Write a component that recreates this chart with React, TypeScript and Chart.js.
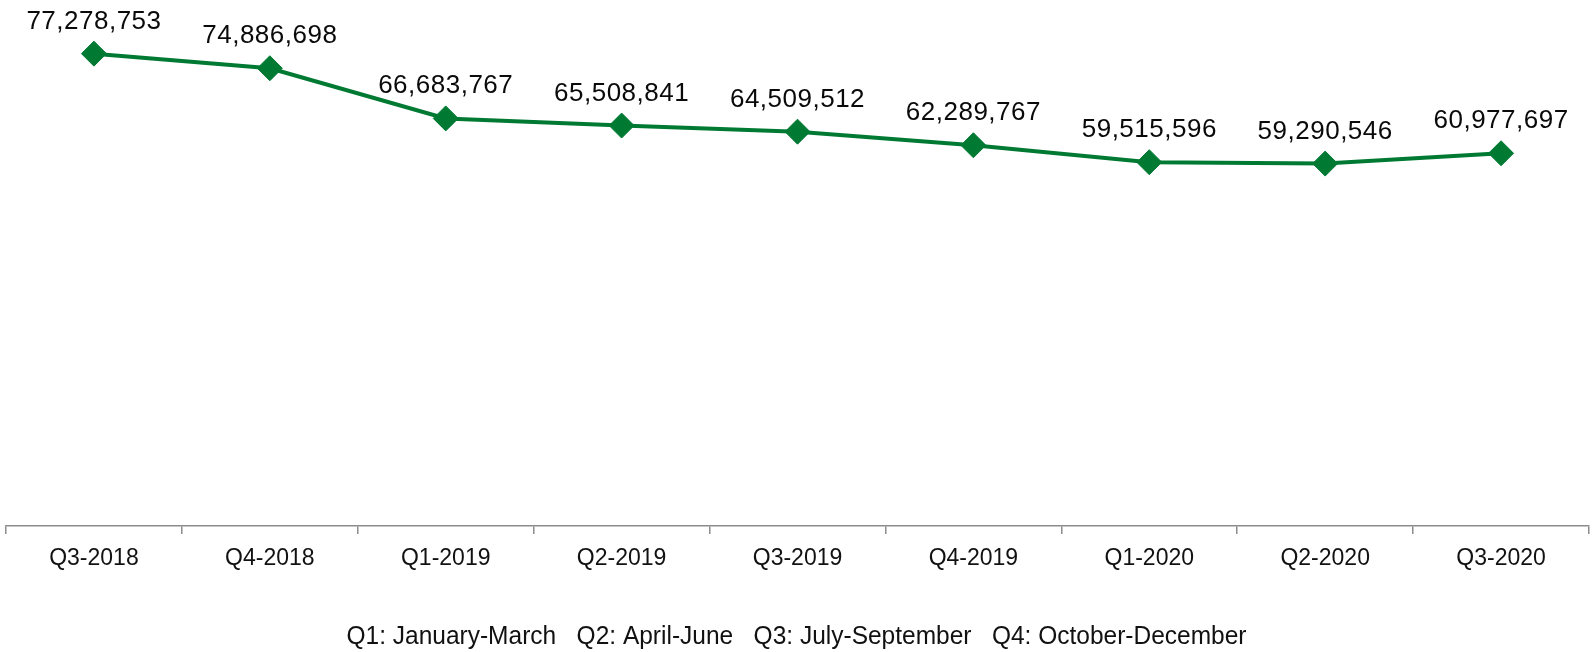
import React, { useEffect, useRef } from "react";
import { Chart, registerables } from "chart.js";

Chart.register(...registerables);

const categories = [
  "Q3-2018", "Q4-2018", "Q1-2019", "Q2-2019", "Q3-2019",
  "Q4-2019", "Q1-2020", "Q2-2020", "Q3-2020",
];
const values = [
  77278753, 74886698, 66683767, 65508841, 64509512,
  62289767, 59515596, 59290546, 60977697,
];
const note = "Q1: January-March   Q2: April-June   Q3: July-September   Q4: October-December";

const GREEN = "rgb(0,122,51)";

const valueLabels = {
  id: "valueLabels",
  afterDatasetsDraw(chart: any) {
    const ctx = chart.ctx;
    const meta = chart.getDatasetMeta(0);
    ctx.save();
    ctx.font = "26px 'Liberation Sans', Arial, sans-serif";
    (ctx as any).letterSpacing = "0.5px";
    ctx.fillStyle = "#0a0a0a";
    ctx.textAlign = "center";
    ctx.textBaseline = "alphabetic";
    meta.data.forEach((pt: any, i: number) => {
      const v = values[i];
      ctx.fillText(v.toLocaleString("en-US"), pt.x, pt.y - 25);
    });
    ctx.restore();
  },
};

const bottomNote = {
  id: "bottomNote",
  afterDraw(chart: any) {
    const ctx = chart.ctx;
    ctx.save();
    ctx.font = "25.5px 'Liberation Sans', Arial, sans-serif";
    ctx.fillStyle = "#111";
    ctx.textAlign = "center";
    ctx.textBaseline = "alphabetic";
    const w = ctx.measureText(note).width;
    const sx = 900 / w;
    ctx.translate(chart.width / 2 - 1, 643.5);
    ctx.scale(sx, 1);
    ctx.fillText(note, 0, 0);
    ctx.restore();
  },
};

export default function App() {
  const ref = useRef<HTMLCanvasElement | null>(null);
  useEffect(() => {
    document.body.style.margin = "0";
    const canvas = ref.current;
    if (!canvas) return;
    const chart = new Chart(canvas, {
      type: "line",
      data: {
        labels: categories,
        datasets: [
          {
            data: values,
            borderColor: GREEN,
            backgroundColor: GREEN,
            borderWidth: 4,
            pointStyle: "rectRot",
            pointRadius: 12.5,
            pointBorderWidth: 1,
            pointBackgroundColor: GREEN,
            pointBorderColor: GREEN,
            tension: 0,
            clip: false,
          },
        ],
      },
      options: {
        animation: false,
        responsive: false,
        devicePixelRatio: 1,
        layout: { autoPadding: false, padding: { left: 6, right: 6, top: 37, bottom: 0 } },
        plugins: {
          legend: { display: false },
          tooltip: { enabled: false },
          title: { display: false },
        },
        scales: {
          x: {
            offset: true,
            grid: {
              offset: true,
              drawOnChartArea: false,
              drawTicks: true,
              tickLength: 8,
              color: "#8c8c8c",
              lineWidth: 1.5,
            },
            border: { display: true, color: "#8c8c8c", width: 1.5 },
            ticks: {
              color: "#111",
              padding: 11,
              maxRotation: 0,
              autoSkip: false,
              font: { family: "'Liberation Sans', Arial, sans-serif", size: 23 },
            },
            afterFit: (scale: any) => {
              scale.height = 652 - 526;
            },
          },
          y: {
            display: false,
            min: 0,
            max: 80000000,
          },
        },
      },
      plugins: [valueLabels, bottomNote],
    });
    return () => chart.destroy();
  }, []);
  return (
    <div style={{ width: 1595, height: 652 }}>
      <canvas ref={ref} width={1595} height={652} style={{ display: "block" }} />
    </div>
  );
}
